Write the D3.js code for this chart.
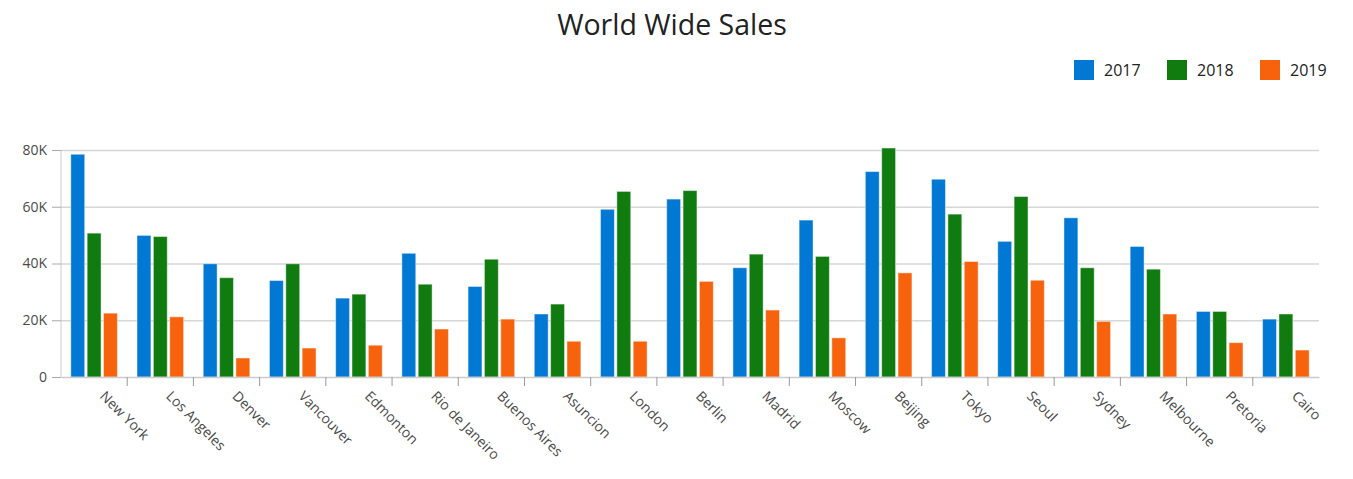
<!DOCTYPE html>
<html>
<head>
    <title>World Wide Sales</title>
    <meta charset="utf-8">
    <script src="https://cdn.jsdelivr.net/npm/d3@7"></script>
    <style>
        body { margin: 0; background: #fff; }
        svg, svg text { font-family: "Open Sans", "Noto Sans", sans-serif; }
        .grid line { stroke: #d6d6d6; stroke-width: 1.5px; }
        .grid path { display: none; }
        .yaxis text, .xaxis text { fill: #4a4a4a; font-size: 14px; }
    </style>
</head>
<body>
<svg id="chart" width="1353" height="479"></svg>
<script>
    // data
    var cities = ["New York", "Los Angeles", "Denver", "Vancouver", "Edmonton", "Rio de Janeiro",
        "Buenos Aires", "Asuncion", "London", "Berlin", "Madrid", "Moscow", "Beijing", "Tokyo",
        "Seoul", "Sydney", "Melbourne", "Pretoria", "Cairo"];
    var years = ["2017", "2018", "2019"];
    var sales2017 = [78500, 49900, 39900, 34000, 27800, 43600, 31900, 22200, 59100, 62700, 38500, 55300, 72400, 69700, 47800, 56100, 46000, 23100, 20400];
    var sales2018 = [50700, 49500, 35000, 39900, 29200, 32700, 41500, 25700, 65400, 65700, 43300, 42500, 80700, 57400, 63600, 38500, 38000, 23100, 22200];
    var sales2019 = [22500, 21200, 6700, 10200, 11200, 16900, 20400, 12600, 12600, 33700, 23600, 13800, 36700, 40700, 34100, 19600, 22200, 12100, 9500];
    var yTicks = [0, 20000, 40000, 60000, 80000];
    var colors = ["#0078d4", "#107c10", "#f7630c"];

    var series = [sales2017, sales2018, sales2019];

    var svg = d3.select("#chart");
    var plotLeft = 61, plotRight = 1319, plotTop = 150, plotBottom = 377;

    var x0 = d3.scaleBand().domain(cities).range([plotLeft, plotRight]).padding(0);
    var x1 = d3.scaleBand().domain(years).range([0, x0.bandwidth()])
        .paddingInner(0.15).paddingOuter(0.6);
    var y = d3.scaleLinear().domain([0, 80000]).range([plotBottom, plotTop]);
    var color = d3.scaleOrdinal().domain(years).range(colors);

    // title
    svg.append("text")
        .attr("x", 672).attr("y", 35)
        .attr("text-anchor", "middle")
        .style("font-size", "28.5px")
        .style("fill", "#222")
        .text("World Wide Sales");

    // legend
    var legend = svg.append("g").selectAll("g")
        .data(years).enter().append("g")
        .attr("transform", function (d, i) {
            return "translate(" + [1074, 1167, 1260][i] + ",60)";
        });
    legend.append("rect")
        .attr("width", 20).attr("height", 20)
        .attr("fill", function (d) { return color(d); });
    legend.append("text")
        .attr("x", 30).attr("y", 16)
        .style("font-size", "16px")
        .style("fill", "#222")
        .text(function (d) { return d; });

    // gridlines
    svg.append("g")
        .attr("class", "grid")
        .attr("transform", "translate(" + plotLeft + ",0)")
        .call(d3.axisRight(y).tickValues(yTicks.slice(1)).tickSize(plotRight - plotLeft).tickFormat(""));

    // y axis
    var yAxis = svg.append("g")
        .attr("class", "yaxis")
        .attr("transform", "translate(" + plotLeft + ",0)")
        .call(d3.axisLeft(y).tickValues(yTicks).tickSize(9).tickPadding(5)
            .tickFormat(function (d) { return d === 0 ? "0" : (d / 1000) + "K"; }));
    yAxis.select(".domain").attr("stroke", "#ccc").attr("d", "M0," + plotTop + "V" + plotBottom);
    yAxis.selectAll(".tick line").attr("stroke", "#aaa");

    // bars
    svg.append("g").selectAll("g")
        .data(cities).enter().append("g")
        .attr("transform", function (d) { return "translate(" + x0(d) + ",0)"; })
        .selectAll("rect")
        .data(function (d, i) {
            return years.map(function (yr, j) { return { year: yr, value: series[j][i] }; });
        })
        .enter().append("rect")
        .attr("x", function (d) { return x1(d.year); })
        .attr("y", function (d) { return y(d.value); })
        .attr("width", x1.bandwidth())
        .attr("height", function (d) { return plotBottom - y(d.value); })
        .attr("fill", function (d) { return color(d.year); })
        .attr("stroke", "#fff")
        .attr("stroke-opacity", 0.45)
        .attr("stroke-width", 1);

    // x axis
    var xAxis = svg.append("g")
        .attr("class", "xaxis")
        .attr("transform", "translate(0," + plotBottom + ")")
        .call(d3.axisBottom(x0).tickSize(0).tickPadding(0));
    xAxis.select(".domain").attr("stroke", "#ccc").attr("stroke-width", 1.5);
    xAxis.selectAll(".tick text")
        .attr("text-anchor", "start")
        .attr("transform", "translate(5,20) rotate(45)")
        .attr("dy", "0");

    // category separators
    xAxis.selectAll(".sep")
        .data(cities.slice(1)).enter().append("line")
        .attr("x1", function (d) { return x0(d); })
        .attr("x2", function (d) { return x0(d); })
        .attr("y1", 0).attr("y2", 9)
        .attr("stroke", "#999");
</script>
</body>
</html>
